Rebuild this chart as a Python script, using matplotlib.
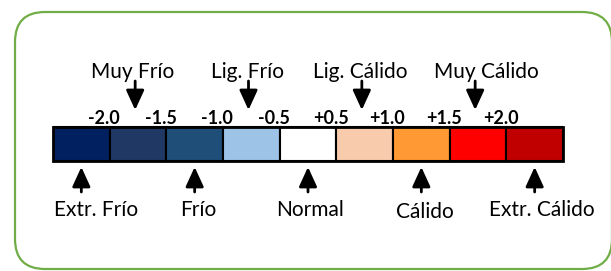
import matplotlib
matplotlib.use("Agg")
import matplotlib.pyplot as plt
from matplotlib.patches import FancyBboxPatch, Rectangle
import numpy as np

# categories / data
cell_colors = ["#002060", "#203864", "#1F4E79", "#9DC3E6", "#FFFFFF",
               "#F8CBAD", "#FF9933", "#FF0000", "#C00000"]
tick_labels = ["-2.0", "-1.5", "-1.0", "-0.5", "+0.5", "+1.0", "+1.5", "+2.0"]
top_labels = ["Muy Frío", "Lig. Frío", "Lig. Cálido", "Muy Cálido"]
top_cells = [1, 3, 5, 7]
bottom_labels = ["Extr. Frío", "Frío", "Normal", "Cálido", "Extr. Cálido"]
bottom_cells = [0, 2, 4, 6, 8]

# text offsets (cell units) relative to arrow position
top_text_dx = [-0.05, -0.02, -0.02, 0.20]
bottom_text_dx = [0.26, 0.07, 0.03, 0.07, 0.12]
bottom_text_dy = [0, 0, 0, 2, 0]

plt.rcParams['font.family'] = ['Lato', 'DejaVu Sans']

fig = plt.figure(figsize=(6.11, 2.71), dpi=100)

# background axes in pixel units for the rounded frame
bg = fig.add_axes([0, 0, 1, 1])
bg.set_xlim(0, 611)
bg.set_ylim(271, 0)
bg.axis('off')
frame = FancyBboxPatch((15, 12), 597, 257,
                       boxstyle="round,pad=0,rounding_size=30",
                       fill=False, edgecolor="#70AD47", linewidth=1.6)
bg.add_patch(frame)

# main axes: x in cell units, y in pixels
ax = fig.add_axes([53 / 611, 0, 510 / 611, 1])
ax.set_xlim(0, 9)
ax.set_ylim(271, 0)
ax.axis('off')

n = len(cell_colors)
ax.bar(np.arange(n), 34, bottom=127, width=1, align='edge',
       color=cell_colors, edgecolor='black', linewidth=1.5)
ax.add_patch(Rectangle((0, 127), n, 34, fill=False, edgecolor='black',
                       linewidth=2, clip_on=False))

# tick labels at the boundaries
for i, lab in enumerate(tick_labels):
    ax.text(i + 1 - 0.1, 118, lab, ha='center', va='center',
            fontsize=13, fontweight='bold')

arrow = dict(arrowstyle='-|>,head_length=1.2,head_width=0.55',
             color='black', lw=2, shrinkA=0, shrinkB=0, mutation_scale=10)

for lab, c, dx in zip(top_labels, top_cells, top_text_dx):
    xa = c + 0.45
    ax.annotate('', xy=(xa, 110), xytext=(xa, 81), arrowprops=arrow)
    ax.text(xa + dx, 72, lab, ha='center', va='center', fontsize=15)

for lab, c, dx, dy in zip(bottom_labels, bottom_cells, bottom_text_dx, bottom_text_dy):
    xa = c + 0.5
    ax.annotate('', xy=(xa, 167), xytext=(xa, 192), arrowprops=arrow)
    ax.text(xa + dx, 210 + dy, lab, ha='center', va='center', fontsize=15)

fig.savefig("out.png", dpi=100)
